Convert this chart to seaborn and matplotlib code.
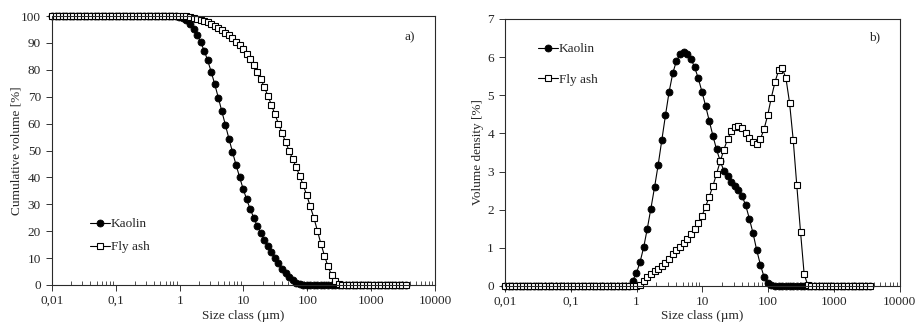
import matplotlib
matplotlib.use('Agg')
import numpy as np
import pandas as pd
import matplotlib.pyplot as plt
import seaborn as sns
from matplotlib.ticker import FixedLocator, FixedFormatter, LogLocator, NullFormatter

# Size classes (um)
size_class = [
    0.01, 0.0114, 0.0129, 0.0147, 0.0167, 0.0189, 0.0215, 0.0244, 0.0278, 0.0315,
    0.0358, 0.0407, 0.0463, 0.0526, 0.0597, 0.0679, 0.0771, 0.0876, 0.0995, 0.113,
    0.128, 0.146, 0.166, 0.188, 0.214, 0.243, 0.276, 0.314, 0.357, 0.405,
    0.46, 0.523, 0.594, 0.675, 0.767, 0.872, 0.991, 1.13, 1.28, 1.45,
    1.65, 1.88, 2.13, 2.42, 2.75, 3.12, 3.55, 4.03, 4.58, 5.21,
    5.92, 6.72, 7.64, 8.68, 9.86, 11.2, 12.7, 14.5, 16.4, 18.7,
    21.2, 24.1, 27.4, 31.1, 35.3, 40.1, 45.6, 51.8, 58.9, 66.9,
    76.0, 86.4, 98.1, 111, 127, 144, 163, 186, 211, 240,
    272, 310, 352, 400, 454, 516, 586, 666, 756, 859,
    976, 1110, 1260, 1430, 1630, 1850, 2100, 2390, 2710, 3080,
    3500,
]

# Cumulative volume [%]
kaolin_cum = [
    100, 100, 100, 100, 100, 100, 100, 100, 100, 100,
    100, 100, 100, 100, 100, 100, 100, 100, 100, 100,
    100, 100, 100, 100, 100, 100, 100, 100, 100, 100,
    100, 100, 100, 100, 100, 100, 99.8, 99.3, 98.5, 97.1,
    95.3, 93.0, 90.3, 87.2, 83.5, 79.3, 74.6, 69.7, 64.6, 59.5,
    54.4, 49.5, 44.7, 40.2, 35.8, 31.9, 28.3, 25.0, 22.0, 19.3,
    16.8, 14.4, 12.2, 10.1, 8.0, 6.0, 4.3, 2.8, 1.7, 0.9,
    0.35, 0.1, 0.02, 0, 0, 0, 0, 0, 0, 0,
    0, 0, 0, 0, 0, 0, 0, 0, 0, 0,
    0, 0, 0, 0, 0, 0, 0, 0, 0, 0,
    0,
]
flyash_cum = [
    100, 100, 100, 100, 100, 100, 100, 100, 100, 100,
    100, 100, 100, 100, 100, 100, 100, 100, 100, 100,
    100, 100, 100, 100, 100, 100, 100, 100, 100, 100,
    100, 100, 100, 100, 100, 100, 100, 100.0, 99.9, 99.7,
    99.4, 99.1, 98.7, 98.3, 97.8, 97.2, 96.5, 95.7, 94.8, 93.9,
    92.9, 91.8, 90.5, 89.1, 87.6, 85.9, 83.9, 81.7, 79.3, 76.6,
    73.6, 70.4, 67.0, 63.5, 60.0, 56.6, 53.2, 50.0, 46.9, 43.8,
    40.6, 37.1, 33.4, 29.3, 24.9, 20.2, 15.4, 10.9, 6.9, 3.7,
    1.5, 0.3, 0, 0, 0, 0, 0, 0, 0, 0,
    0, 0, 0, 0, 0, 0, 0, 0, 0, 0,
    0,
]

# Volume density [%]
kaolin_dens = [
    0, 0, 0, 0, 0, 0, 0, 0, 0, 0,
    0, 0, 0, 0, 0, 0, 0, 0, 0, 0,
    0, 0, 0, 0, 0, 0, 0, 0, 0, 0,
    0, 0, 0, 0, 0, 0.14, 0.33, 0.63, 1.01, 1.49,
    2.03, 2.60, 3.18, 3.83, 4.48, 5.09, 5.58, 5.90, 6.08, 6.14,
    6.08, 5.95, 5.73, 5.44, 5.09, 4.72, 4.33, 3.93, 3.58, 3.27,
    3.02, 2.87, 2.73, 2.63, 2.52, 2.36, 2.11, 1.76, 1.38, 0.94,
    0.56, 0.24, 0.09, 0.02, 0, 0, 0, 0, 0, 0,
    0, 0, 0, 0, 0, 0, 0, 0, 0, 0,
    0, 0, 0, 0, 0, 0, 0, 0, 0, 0,
    0,
]
flyash_dens = [
    0, 0, 0, 0, 0, 0, 0, 0, 0, 0,
    0, 0, 0, 0, 0, 0, 0, 0, 0, 0,
    0, 0, 0, 0, 0, 0, 0, 0, 0, 0,
    0, 0, 0, 0, 0, 0, 0, 0.02, 0.14, 0.23,
    0.31, 0.39, 0.45, 0.52, 0.61, 0.71, 0.83, 0.94, 1.03, 1.13,
    1.23, 1.35, 1.49, 1.65, 1.84, 2.08, 2.34, 2.63, 2.94, 3.27,
    3.57, 3.85, 4.05, 4.16, 4.19, 4.15, 4.01, 3.87, 3.77, 3.73,
    3.85, 4.11, 4.47, 4.92, 5.35, 5.65, 5.71, 5.45, 4.81, 3.83,
    2.64, 1.42, 0.31, 0.02, 0, 0, 0, 0, 0, 0,
    0, 0, 0, 0, 0, 0, 0, 0, 0, 0,
    0,
]

x_ticks = [0.01, 0.1, 1, 10, 100, 1000, 10000]
x_tick_labels = ['0,01', '0,1', '1', '10', '100', '1000', '10000']

df = pd.DataFrame({
    'size': size_class,
    'kaolin_cum': kaolin_cum,
    'flyash_cum': flyash_cum,
    'kaolin_dens': kaolin_dens,
    'flyash_dens': flyash_dens,
})

sns.set_style('ticks')
plt.rcParams['font.family'] = ['Liberation Serif', 'DejaVu Serif']
plt.rcParams['font.size'] = 9

fig = plt.figure(figsize=(9.16, 3.22), dpi=100)
ax1 = fig.add_axes([0.0568, 0.115, 0.418, 0.835])
ax2 = fig.add_axes([0.5513, 0.112, 0.431, 0.829])

kaolin_style = dict(color='black', marker='o', markersize=5, markerfacecolor='black',
                    markeredgecolor='black', markeredgewidth=0.6, linewidth=0.8,
                    clip_on=False, errorbar=None)
flyash_style = dict(color='black', marker='s', markersize=4.6, markerfacecolor='white',
                    markeredgecolor='black', markeredgewidth=0.8, linewidth=0.8,
                    clip_on=False, errorbar=None)


def style_axis(ax):
    ax.set_xscale('log')
    ax.set_xlim(0.01, 10000)
    ax.xaxis.set_major_locator(FixedLocator(x_ticks))
    ax.xaxis.set_major_formatter(FixedFormatter(x_tick_labels))
    ax.xaxis.set_minor_locator(LogLocator(base=10, subs=np.arange(2, 10), numticks=20))
    ax.xaxis.set_minor_formatter(NullFormatter())
    ax.tick_params(axis='x', which='major', direction='out', length=4, width=0.7,
                   labelsize=9.5, pad=3, color='#333333')
    ax.tick_params(axis='x', which='minor', direction='in', length=3, width=0.6,
                   color='#333333')
    ax.tick_params(axis='y', which='major', direction='out', length=4, width=0.7,
                   labelsize=9.5, pad=4, color='#333333')
    for sp in ax.spines.values():
        sp.set_visible(True)
        sp.set_color('#2a2a2a')
        sp.set_linewidth(0.8)
    ax.set_xlabel('Size class (µm)', fontsize=9.5)


# a) cumulative
sns.lineplot(data=df, x='size', y='kaolin_cum', label='Kaolin', ax=ax1, **kaolin_style)
sns.lineplot(data=df, x='size', y='flyash_cum', label='Fly ash', ax=ax1, **flyash_style)
style_axis(ax1)
ax1.set_ylim(0, 100)
ax1.set_yticks(range(0, 101, 10))
ax1.set_ylabel('Cumulative volume [%]', fontsize=9.5)
ax1.yaxis.set_label_coords(-0.076, 0.5)
ax1.xaxis.set_label_coords(0.5, -0.093)
ax1.legend(loc='upper left', bbox_to_anchor=(0.085, 0.268), frameon=False, fontsize=9.5,
           handlelength=1.5, handletextpad=0.1, labelspacing=0.8, borderaxespad=0)
ax1.text(0.935, 0.92, 'a)', transform=ax1.transAxes, fontsize=9.5, ha='center', va='center')

# b) density
sns.lineplot(data=df, x='size', y='kaolin_dens', label='Kaolin', ax=ax2, **kaolin_style)
sns.lineplot(data=df, x='size', y='flyash_dens', label='Fly ash', ax=ax2, **flyash_style)
style_axis(ax2)
ax2.set_ylim(0, 7)
ax2.set_yticks(range(0, 8))
ax2.set_ylabel('Volume density [%]', fontsize=9.5)
ax2.yaxis.set_label_coords(-0.053, 0.5)
ax2.xaxis.set_label_coords(0.5, -0.09)
ax2.legend(loc='upper left', bbox_to_anchor=(0.07, 0.93), frameon=False, fontsize=9.5,
           handlelength=1.5, handletextpad=0.1, labelspacing=1.4, borderaxespad=0)
ax2.text(0.937, 0.93, 'b)', transform=ax2.transAxes, fontsize=9.5, ha='center', va='center')

fig.savefig('out.png', dpi=100)
